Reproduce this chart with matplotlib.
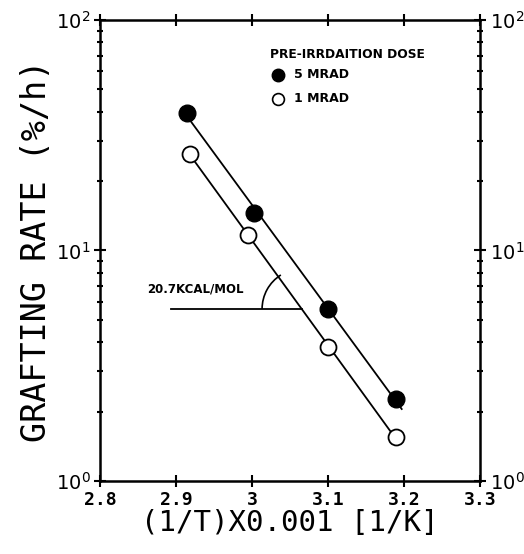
import numpy as np
import matplotlib
matplotlib.use('Agg')
import matplotlib.pyplot as plt
from matplotlib.patches import Arc
from matplotlib.ticker import LogLocator, LogFormatterMathtext, NullFormatter

# 1/T x 0.001 [1/K] and grafting rate [%/h]
x_5mrad = [2.915, 3.003, 3.100, 3.189]
rate_5mrad = [39.5, 14.5, 5.6, 2.27]
x_1mrad = [2.918, 2.995, 3.100, 3.189]
rate_1mrad = [26.2, 11.7, 3.8, 1.55]
xticks = [2.8, 2.9, 3.0, 3.1, 3.2, 3.3]
xtick_labels = ['2.8', '2.9', '3', '3.1', '3.2', '3.3']

fig = plt.figure(figsize=(5.24, 5.54), dpi=100)
ax = fig.add_axes([0.1908, 0.1318, 0.7252, 0.8321])

# fitted lines (log scale)
def fit_line(xs, ys, x0, x1):
    k, b = np.polyfit(xs, np.log10(ys), 1)
    xx = np.array([x0, x1])
    return xx, 10 ** (k * xx + b)

xx, yy = fit_line(x_5mrad, rate_5mrad, 2.915, 3.197)
ax.plot(xx, yy, color='black', lw=1.3)
xx, yy = fit_line(x_1mrad, rate_1mrad, 2.918, 3.19)
ax.plot(xx, yy, color='black', lw=1.3)

ax.plot(x_5mrad, rate_5mrad, 'o', ms=12, color='black', mec='black')
ax.plot(x_1mrad, rate_1mrad, 'o', ms=11.5, mfc='white', mec='black', mew=1.3)

ax.set_yscale('log')
ax.set_xlim(2.8, 3.3)
ax.set_ylim(1, 100)

ax.set_xticks(xticks)
ax.set_xticklabels(xtick_labels, fontsize=13, fontweight='bold', family='DejaVu Sans Mono')
ax.yaxis.set_major_locator(LogLocator(base=10))
ax.yaxis.set_major_formatter(LogFormatterMathtext())
ax.yaxis.set_minor_locator(LogLocator(base=10, subs=np.arange(2, 10)))
ax.yaxis.set_minor_formatter(NullFormatter())
ax.tick_params(axis='both', which='both', direction='inout', top=True, right=True,
               labelright=True, width=1.5)
ax.tick_params(axis='both', which='major', length=8)
ax.tick_params(axis='y', which='minor', length=5)
ax.tick_params(axis='y', which='major', labelsize=14, pad=3)
for s in ax.spines.values():
    s.set_linewidth(1.8)

ax.set_xlabel('(1/T)X0.001 [1/K]', fontsize=21, family='DejaVu Sans Mono', labelpad=0)
ax.set_ylabel('GRAFTING RATE (%/h)', fontsize=24, family='DejaVu Sans Mono', labelpad=2)

# activation energy annotation
ax.plot([2.893, 3.066], [5.6, 5.6], color='black', lw=1.3)
ax.text(2.862, 6.6, '20.7KCAL/MOL', fontsize=8.5, fontweight='bold')
arc = Arc((0.5316, 0.3731), 0.21, 0.174, transform=ax.transAxes,
          theta1=127, theta2=180, color='black', lw=1.2)
ax.add_patch(arc)

# legend
ax.text(0.448, 0.925, 'PRE-IRRDAITION DOSE', transform=ax.transAxes, fontsize=8.8,
        fontweight='bold', va='center')
ax.plot([0.469], [0.881], 'o', ms=9, color='black', transform=ax.transAxes)
ax.text(0.51, 0.881, '5 MRAD', transform=ax.transAxes, fontsize=9,
        fontweight='bold', va='center')
ax.plot([0.469], [0.829], 'o', ms=8.5, mfc='white', mec='black', mew=1.2,
        transform=ax.transAxes)
ax.text(0.51, 0.829, '1 MRAD', transform=ax.transAxes, fontsize=9,
        fontweight='bold', va='center')

fig.savefig('out.png', dpi=100)
